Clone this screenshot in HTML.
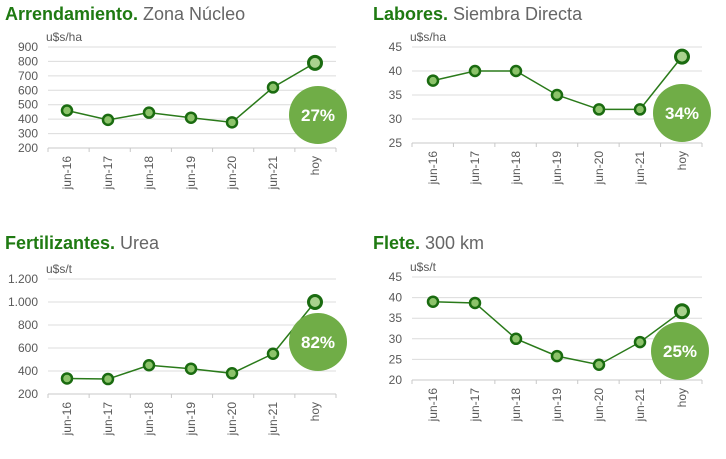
<!DOCTYPE html><html><head><meta charset="utf-8"><style>
body{margin:0;background:#fff;width:726px;height:454px;overflow:hidden}
text{font-family:"Liberation Sans",sans-serif}
</style></head><body>
<svg id="s" width="726" height="454" xmlns="http://www.w3.org/2000/svg"></svg>
<script>
var s=document.getElementById('s'),h='';
var X1=[67,108,149,191,232,273,315],X2=[433,475,516,557,599,640,682];
var labs=['jun-16','jun-17','jun-18','jun-19','jun-20','jun-21','hoy'];
function chart(o){
 h+='<text x="'+o.tx+'" y="'+o.ty+'" font-size="18"><tspan fill="#1f7a12" font-weight="bold">'+o.t1+'</tspan><tspan fill="#666"> '+o.t2+'</tspan></text>';
 h+='<text x="'+(o.ax0-2)+'" y="'+(o.g0-6)+'" font-size="12" fill="#595959">'+o.unit+'</text>';
 var n=o.ticks.length;
 for(var i=0;i<n;i++){var y=o.g0+(o.g1-o.g0)*i/(n-1);
  h+='<line x1="'+o.ax0+'" x2="'+o.ax1+'" y1="'+y+'" y2="'+y+'" stroke="'+(i==n-1?'#c8c8c8':'#dcdcdc')+'" stroke-width="1"/>';
  h+='<text x="'+(o.ax0-10)+'" y="'+(y+4)+'" font-size="12" fill="#595959" text-anchor="end">'+o.ticks[i]+'</text>';}
 var step=(o.ax1-o.ax0)/7;
 for(var i=0;i<=7;i++){var x=o.ax0+step*i;h+='<line x1="'+x+'" x2="'+x+'" y1="'+o.g1+'" y2="'+(o.g1+4)+'" stroke="#c8c8c8"/>';}
 function Y(v){return o.g1-(v-o.vmin)/(o.vmax-o.vmin)*(o.g1-o.g0);}
 var pts=o.v.map(function(v,i){return o.X[i]+','+Y(v)}).join(' ');
 h+='<polyline points="'+pts+'" fill="none" stroke="#2a7a1a" stroke-width="1.5"/>';
 h+='<circle cx="'+o.cx+'" cy="'+o.cy+'" r="29" fill="#70ad47"/>';
 h+='<text x="'+o.cx+'" y="'+(o.cy+6)+'" font-size="17" font-weight="bold" fill="#fff" text-anchor="middle">'+o.pct+'</text>';
 o.v.forEach(function(v,i){var last=i==6;
  h+='<circle cx="'+o.X[i]+'" cy="'+Y(v)+'" r="'+(last?6.5:5)+'" fill="'+(last?'#a9d18e':'#8cc36a')+'" stroke="#1a6b10" stroke-width="'+(last?3:2.5)+'"/>';});
 labs.forEach(function(l,i){var x=o.X[i]+4,y=o.g1+8;
  h+='<text transform="translate('+x+','+y+') rotate(-90)" font-size="12" fill="#595959" text-anchor="end">'+l+'</text>';});
}
chart({tx:5,ty:20,t1:'Arrendamiento.',t2:'Zona Núcleo',unit:'u$s/ha',ax0:48,ax1:336,g0:47,g1:148,ticks:['900','800','700','600','500','400','300','200'],vmin:200,vmax:900,X:X1,v:[460,395,445,410,378,620,790],cx:318,cy:115,pct:'27%'});
chart({tx:373,ty:20,t1:'Labores.',t2:'Siembra Directa',unit:'u$s/ha',ax0:412,ax1:702,g0:47,g1:143,ticks:['45','40','35','30','25'],vmin:25,vmax:45,X:X2,v:[38,40,40,35,32,32,43],cx:682,cy:113,pct:'34%'});
chart({tx:5,ty:249,t1:'Fertilizantes.',t2:'Urea',unit:'u$s/t',ax0:48,ax1:336,g0:279,g1:394,ticks:['1.200','1.000','800','600','400','200'],vmin:200,vmax:1200,X:X1,v:[335,330,450,420,380,550,1000],cx:318,cy:342,pct:'82%'});
chart({tx:373,ty:249,t1:'Flete.',t2:'300 km',unit:'u$s/t',ax0:412,ax1:702,g0:277,g1:380,ticks:['45','40','35','30','25','20'],vmin:20,vmax:45,X:X2,v:[39,38.7,30,25.8,23.7,29.2,36.7],cx:680,cy:351,pct:'25%'});
s.innerHTML=h;
</script></body></html>
